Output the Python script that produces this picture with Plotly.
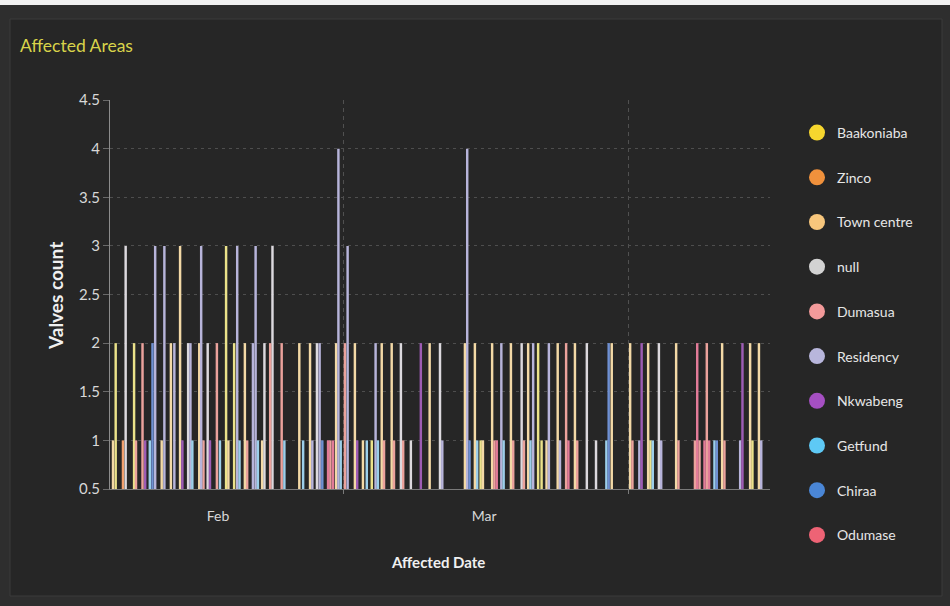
import plotly.graph_objects as go

# Valve reports per area: report timestamp, area, number of valves affected
report_times = [
    "2023-02-04 00:00", "2023-02-04 07:00", "2023-02-05 02:00", "2023-02-05 09:00", "2023-02-06 07:00",
    "2023-02-06 12:00", "2023-02-07 05:00", "2023-02-07 12:00", "2023-02-08 00:00", "2023-02-08 07:00",
    "2023-02-08 14:00", "2023-02-09 07:00", "2023-02-09 14:00", "2023-02-10 07:00", "2023-02-10 16:00",
    "2023-02-11 07:00", "2023-02-11 13:00", "2023-02-12 04:00", "2023-02-12 10:00", "2023-02-12 15:00",
    "2023-02-13 09:00", "2023-02-13 14:00", "2023-02-13 20:00", "2023-02-14 07:00", "2023-02-14 13:00",
    "2023-02-15 07:00", "2023-02-15 15:00", "2023-02-16 07:00", "2023-02-16 13:00", "2023-02-17 04:00",
    "2023-02-17 12:00", "2023-02-17 18:00", "2023-02-18 08:00", "2023-02-18 14:00", "2023-02-19 05:00",
    "2023-02-19 12:00", "2023-02-19 18:00", "2023-02-20 05:00", "2023-02-20 11:00", "2023-02-21 02:00",
    "2023-02-21 08:00", "2023-02-22 08:00", "2023-02-22 15:00", "2023-02-24 06:00", "2023-02-24 16:00",
    "2023-02-25 10:00", "2023-02-25 16:00", "2023-02-26 04:00", "2023-02-26 11:00", "2023-02-26 18:00",
    "2023-02-27 09:00", "2023-02-27 15:00", "2023-02-27 22:00", "2023-02-28 06:00", "2023-02-28 12:00",
    "2023-02-28 18:00", "2023-03-01 05:00", "2023-03-01 12:00", "2023-03-02 07:00", "2023-03-02 13:00",
    "2023-03-03 04:00", "2023-03-03 14:00", "2023-03-04 03:00", "2023-03-04 13:00", "2023-03-04 19:00",
    "2023-03-05 05:00", "2023-03-05 11:00", "2023-03-06 07:00", "2023-03-06 13:00", "2023-03-07 07:00",
    "2023-03-07 13:00", "2023-03-08 09:00", "2023-03-09 11:00", "2023-03-10 10:00", "2023-03-11 13:00",
    "2023-03-11 19:00", "2023-03-14 06:00", "2023-03-14 12:00", "2023-03-14 18:00", "2023-03-15 08:00",
    "2023-03-15 14:00", "2023-03-15 23:00", "2023-03-16 05:00", "2023-03-17 05:00", "2023-03-17 11:00",
    "2023-03-17 17:00", "2023-03-18 05:00", "2023-03-18 11:00", "2023-03-19 06:00", "2023-03-19 12:00",
    "2023-03-20 10:00", "2023-03-20 16:00", "2023-03-21 03:00", "2023-03-21 09:00", "2023-03-21 16:00",
    "2023-03-22 05:00", "2023-03-22 14:00", "2023-03-23 03:00", "2023-03-23 09:00", "2023-03-24 08:00",
    "2023-03-24 14:00", "2023-03-25 06:00", "2023-03-25 12:00", "2023-03-26 05:00", "2023-03-26 11:00",
    "2023-03-27 12:00", "2023-03-28 12:00", "2023-03-29 15:00", "2023-03-29 21:00", "2023-03-30 05:00",
    "2023-04-01 05:00", "2023-04-01 11:00", "2023-04-02 05:00", "2023-04-02 11:00", "2023-04-03 04:00",
    "2023-04-03 10:00", "2023-04-03 16:00", "2023-04-04 08:00", "2023-04-04 14:00", "2023-04-06 05:00",
    "2023-04-06 11:00", "2023-04-08 06:00", "2023-04-08 12:00", "2023-04-08 18:00", "2023-04-09 07:00",
    "2023-04-09 13:00", "2023-04-09 19:00", "2023-04-10 09:00", "2023-04-10 15:00", "2023-04-11 05:00",
    "2023-04-11 11:00", "2023-04-13 04:00", "2023-04-13 10:00", "2023-04-14 06:00", "2023-04-14 12:00",
    "2023-04-15 05:00", "2023-04-15 11:00",
]

areas = [
    "Town centre", "Baakoniaba", "Zinco", "null", "Baakoniaba",
    "Dumasua", "Dumasua", "Nkwabeng", "Getfund", "Chiraa",
    "Residency", "Town centre", "Residency", "Town centre", "Residency",
    "Town centre", "Nkwabeng", "null", "Residency", "Getfund",
    "Town centre", "Residency", "Dumasua", "null", "Nkwabeng",
    "Dumasua", "Getfund", "Baakoniaba", "Town centre", "Baakoniaba",
    "Residency", "Getfund", "Town centre", "Dumasua", "Residency",
    "Residency", "Getfund", "Town centre", "null", "Dumasua",
    "null", "Dumasua", "Getfund", "Town centre", "Getfund",
    "Town centre", "Residency", "null", "Residency", "Chiraa",
    "Odumase", "Dumasua", "Odumase", "Town centre", "Residency",
    "Getfund", "Dumasua", "Residency", "Town centre", "Nkwabeng",
    "Town centre", "Getfund", "Baakoniaba", "Residency", "Getfund",
    "Town centre", "Dumasua", "Town centre", "Dumasua", "null",
    "Dumasua", "null", "Nkwabeng", "Town centre", "null",
    "Residency", "Town centre", "Residency", "Chiraa", "Town centre",
    "Getfund", "Baakoniaba", "Town centre", "Town centre", "Dumasua",
    "Odumase", "Residency", "Getfund", "Town centre", "Dumasua",
    "null", "Dumasua", "Town centre", "Getfund", "Residency",
    "Baakoniaba", "Baakoniaba", "Town centre", "Residency", "Town centre",
    "Residency", "Dumasua", "Odumase", "Town centre", "Dumasua",
    "null", "null", "Getfund", "Chiraa", "Town centre",
    "Town centre", "Dumasua", "Residency", "Nkwabeng", "Town centre",
    "Baakoniaba", "Getfund", "null", "Residency", "Town centre",
    "Dumasua", "Dumasua", "Odumase", "Dumasua", "Odumase",
    "Dumasua", "Odumase", "Getfund", "Chiraa", "Town centre",
    "Dumasua", "Residency", "Nkwabeng", "Town centre", "Baakoniaba",
    "Town centre", "Residency",
]

valve_counts = [
    1, 2, 1, 3, 2,
    1, 2, 1, 1, 2,
    3, 1, 3, 2, 2,
    3, 1, 2, 2, 1,
    2, 3, 1, 2, 1,
    2, 1, 3, 1, 2,
    3, 1, 2, 1, 2,
    3, 1, 1, 2, 2,
    3, 2, 1, 2, 1,
    2, 1, 2, 2, 1,
    1, 1, 1, 2, 4,
    1, 2, 3, 2, 1,
    1, 1, 1, 2, 1,
    2, 1, 2, 1, 2,
    1, 1, 2, 2, 2,
    1, 2, 4, 1, 2,
    1, 1, 1, 2, 1,
    1, 2, 1, 2, 1,
    2, 1, 2, 1, 2,
    2, 1, 1, 2, 2,
    1, 2, 1, 2, 1,
    2, 1, 1, 2, 2,
    2, 1, 1, 2, 2,
    1, 1, 2, 1, 2,
    1, 1, 2, 1, 1,
    2, 1, 1, 1, 2,
    1, 1, 2, 2, 1,
    2, 1,
]

area_names = ["Baakoniaba", "Zinco", "Town centre", "null", "Dumasua",
              "Residency", "Nkwabeng", "Getfund", "Chiraa", "Odumase"]
legend_colors = ["#f6d62e", "#f0913c", "#f7c67c", "#d2d2d2", "#f39a9a",
                 "#b8b6dc", "#a54fc2", "#5ec9f5", "#4a86d6", "#ee6375"]
bar_colors = ["#ebe28a", "#f2a06e", "#f3d9a6", "#dcd9de", "#eba29c",
              "#b7b4da", "#9d5cb4", "#9ccfea", "#6f90d2", "#e27b98"]

x_range = ["2023-02-03 16:10", "2023-04-16 09:50"]
month_label_pos = ["2023-02-15 10:00", "2023-03-16 08:00"]
month_labels = ["Feb", "Mar"]

BAR_WIDTH_MS = 6.4 * 3600 * 1000
FONT = "Lato, 'Noto Sans', sans-serif"

fig = go.Figure()

for name, color in zip(area_names, bar_colors):
    xs = [t for t, a in zip(report_times, areas) if a == name]
    ys = [v for v, a in zip(valve_counts, areas) if a == name]
    fig.add_trace(go.Bar(
        x=xs, y=ys, name=name, width=BAR_WIDTH_MS,
        marker=dict(color=color, line=dict(width=0)),
        showlegend=False, hovertemplate="%{x}<br>" + name + ": %{y}<extra></extra>",
    ))

# round legend keys
for name, color in zip(area_names, legend_colors):
    fig.add_trace(go.Scatter(
        x=[None], y=[None], mode="markers", name=name, legendgroup=name,
        marker=dict(color=color, size=18, symbol="circle"),
        showlegend=True,
    ))

# plot area spans pixels x 110..770, y 100..489
def px_x(p):
    return (p - 110) / 660.0

def px_y(p):
    return (489 - p) / 389.0

fig.update_layout(
    width=950, height=606,
    margin=dict(l=110, r=180, t=100, b=117),
    paper_bgcolor="#2e2e2e",
    plot_bgcolor="rgba(0,0,0,0)",
    barmode="overlay",
    font=dict(family=FONT, size=12, color="#d8d8d8"),
    showlegend=True,
    legend=dict(
        x=px_x(797), y=px_y(117), xanchor="left", yanchor="top",
        font=dict(family=FONT, size=14, color="#e6e6e6"),
        tracegroupgap=23.5, maxheight=470,
        bgcolor="rgba(0,0,0,0)",
    ),
    xaxis=dict(
        type="date", range=x_range,
        tickmode="array", tickvals=month_label_pos, ticktext=month_labels,
        ticks="", showgrid=False,
        showline=True, linecolor="#7a7a7a", linewidth=1,
        tickfont=dict(family=FONT, size=14, color="#d8d8d8"),
        ticklabelstandoff=14,
        minor=dict(dtick="M1", tick0="2023-01-01", showgrid=True,
                   gridcolor="#505050", griddash="4px,4px", gridwidth=1,
                   ticks="outside", ticklen=4, tickcolor="#7a7a7a"),
        zeroline=False,
    ),
    yaxis=dict(
        range=[0.5, 4.5], tick0=0.5, dtick=0.5,
        showgrid=True, gridcolor="#4e4e4e", griddash="3px,4px", gridwidth=1,
        showline=True, linecolor="#8c8c8c", linewidth=1,
        ticks="outside", ticklen=6, tickcolor="#6a6a6a",
        tickfont=dict(family=FONT, size=15, color="#d8d8d8"),
        zeroline=False,
    ),
    shapes=[
        dict(type="rect", xref="paper", yref="paper", layer="below",
             x0=px_x(10), x1=px_x(942), y0=px_y(596), y1=px_y(19),
             fillcolor="#262626", line=dict(color="#3a3a3a", width=1)),
        dict(type="rect", xref="paper", yref="paper", layer="below",
             x0=px_x(0), x1=px_x(950), y0=px_y(5), y1=px_y(0),
             fillcolor="#f2f2f2", line=dict(width=0)),
    ],
    annotations=[
        dict(text="Affected Areas", xref="paper", yref="paper",
             x=px_x(18), y=px_y(46), xanchor="left", yanchor="middle",
             showarrow=False, font=dict(family=FONT, size=17.5, color="#d9d44a")),
        dict(text="<b>Valves count</b>", xref="paper", yref="paper",
             x=px_x(55), y=px_y(296), xanchor="center", yanchor="middle",
             textangle=-90, showarrow=False,
             font=dict(family=FONT, size=19, color="#f0f0f0")),
        dict(text="<b>Affected Date</b>", xref="paper", yref="paper",
             x=px_x(438), y=px_y(562), xanchor="center", yanchor="middle",
             showarrow=False, font=dict(family=FONT, size=15, color="#f0f0f0")),
    ],
)

fig.write_html("out.html")
